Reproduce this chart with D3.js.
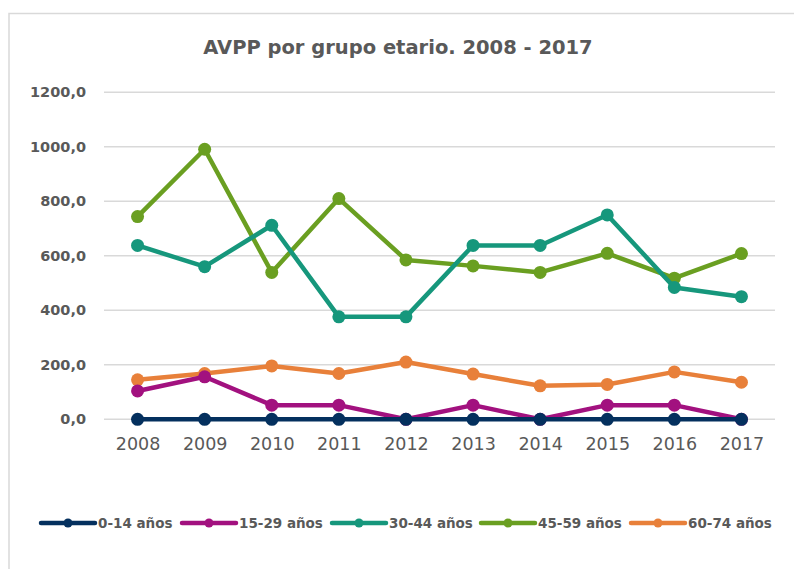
<!DOCTYPE html>
<html>
<head>
<meta charset="utf-8">
<script src="https://cdn.jsdelivr.net/npm/d3@7"></script>
<style>
  body { margin: 0; background: #fff; }
  text { font-family: "DejaVu Sans", Arial, sans-serif; fill: #595959; }
</style>
</head>
<body>
<div class="chart"></div>
<script>
// data
var years = ["2008", "2009", "2010", "2011", "2012", "2013", "2014", "2015", "2016", "2017"];
var seriesNames = ["0-14 años", "15-29 años", "30-44 años", "45-59 años", "60-74 años"];
var colors = ["#04305e", "#a2117f", "#16977c", "#6a9f21", "#e8803a"];
var age0_14 = [0, 0, 0, 0, 0, 0, 0, 0, 0, 0];
var age15_29 = [104, 156, 52, 52, 0, 52, 0, 52, 52, 0];
var age30_44 = [638, 560, 712, 376, 376, 638, 638, 750, 484, 450];
var age45_59 = [744, 991, 539, 810, 585, 563, 539, 609, 518, 608];
var age60_74 = [145, 168, 196, 168, 210, 166, 123, 128, 174, 136];
var yTicks = [0, 200, 400, 600, 800, 1000, 1200];

var allSeries = [age0_14, age15_29, age30_44, age45_59, age60_74];

var svgWidth = 794;
var svgHeight = 569;

var margin = { top: 92.3, right: 19, bottom: 149.7, left: 104 };
var width = svgWidth - margin.left - margin.right;
var height = svgHeight - margin.top - margin.bottom;

var svg = d3.select(".chart")
  .append("svg")
  .attr("width", svgWidth)
  .attr("height", svgHeight);

// outer chart frame (runs off the right and bottom edge)
svg.append("rect")
  .attr("x", 9)
  .attr("y", 13.5)
  .attr("width", 800)
  .attr("height", 600)
  .attr("fill", "none")
  .attr("stroke", "#d9d9d9")
  .attr("stroke-width", 1.5);

svg.append("text")
  .attr("x", 398)
  .attr("y", 54)
  .attr("text-anchor", "middle")
  .style("font-size", "19.5px")
  .style("font-weight", "bold")
  .text("AVPP por grupo etario. 2008 - 2017");

var chartGroup = svg.append("g")
  .attr("transform", `translate(${margin.left}, ${margin.top})`);

var xScale = d3.scalePoint()
  .domain(years)
  .range([0, width])
  .padding(0.5);

var yScale = d3.scaleLinear()
  .domain([0, 1200])
  .range([height, 0]);

// gridlines
chartGroup.append("g")
  .selectAll("line")
  .data(yTicks)
  .enter()
  .append("line")
  .attr("x1", 0)
  .attr("x2", width)
  .attr("y1", d => yScale(d))
  .attr("y2", d => yScale(d))
  .attr("stroke", "#d9d9d9")
  .attr("stroke-width", 1.5);

// y axis labels
var leftAxis = d3.axisLeft(yScale)
  .tickValues(yTicks)
  .tickSize(0)
  .tickPadding(18)
  .tickFormat(d => d3.format(".1f")(d).replace(".", ","));

var yAxis = chartGroup.append("g").call(leftAxis);
yAxis.select(".domain").remove();
yAxis.selectAll("text")
  .style("font-size", "14.5px")
  .style("font-weight", "bold")
  .attr("fill", "#595959");

// x axis labels
var bottomAxis = d3.axisBottom(xScale).tickSize(0).tickPadding(18);
var xAxis = chartGroup.append("g")
  .attr("transform", `translate(0, ${height})`)
  .call(bottomAxis);
xAxis.select(".domain").remove();
xAxis.selectAll("text")
  .style("font-size", "17.5px")
  .attr("fill", "#595959");

var line = d3.line()
  .x((d, i) => xScale(years[i]))
  .y(d => yScale(d));

// draw in the order that matches the picture (first series on top)
var order = [4, 3, 2, 1, 0];
order.forEach(function(s) {
  var g = chartGroup.append("g");
  g.append("path")
    .datum(allSeries[s])
    .attr("d", line)
    .attr("fill", "none")
    .attr("stroke", colors[s])
    .attr("stroke-width", 4.5)
    .attr("stroke-linejoin", "round");
  g.selectAll("circle")
    .data(allSeries[s])
    .enter()
    .append("circle")
    .attr("cx", (d, i) => xScale(years[i]))
    .attr("cy", d => yScale(d))
    .attr("r", 6.5)
    .attr("fill", colors[s]);
});

// legend
var legendX = [41, 182, 332, 481, 631];
var legend = svg.append("g").attr("transform", "translate(0, 523)");
seriesNames.forEach(function(name, i) {
  var item = legend.append("g").attr("transform", `translate(${legendX[i]}, 0)`);
  item.append("line")
    .attr("x1", 0)
    .attr("x2", 54)
    .attr("stroke", colors[i])
    .attr("stroke-width", 4.5)
    .attr("stroke-linecap", "round");
  item.append("circle")
    .attr("cx", 27)
    .attr("r", 4.5)
    .attr("fill", colors[i]);
  item.append("text")
    .attr("x", 57)
    .attr("dy", "0.35em")
    .style("font-size", "13.5px")
    .style("font-weight", "bold")
    .text(name);
});
</script>
</body>
</html>
